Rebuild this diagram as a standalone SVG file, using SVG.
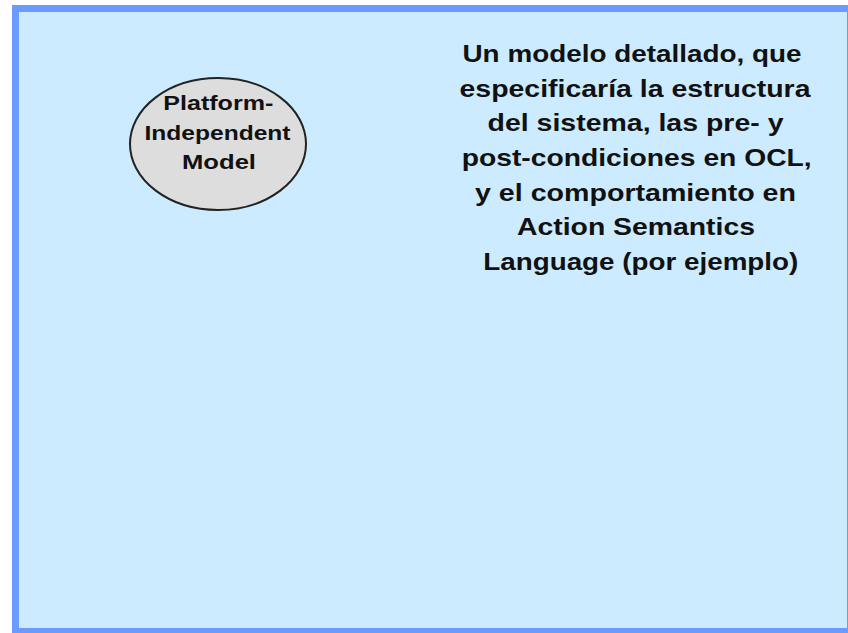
<svg xmlns="http://www.w3.org/2000/svg" width="848" height="633" viewBox="0 0 848 633">
<style>
.t{font-family:"Liberation Sans",Arial,sans-serif;font-weight:bold;fill:#111;text-anchor:middle}
.c{font-size:21px}
.d{font-size:24.5px}
</style>
<rect width="848" height="633" fill="#ffffff"/>
<g id="frame">
<rect x="12" y="5" width="836" height="628" fill="#6B9BFF"/>
<rect x="19" y="12" width="828" height="616" fill="#CCEBFF"/>
</g>
<g id="pim">
<ellipse cx="218" cy="144" rx="88" ry="66" fill="#DDDDDD" stroke="#222" stroke-width="2"/>
<text class="t c" x="218.3" y="110" textLength="110" lengthAdjust="spacingAndGlyphs">Platform-</text>
<text class="t c" x="217.5" y="140" textLength="146" lengthAdjust="spacingAndGlyphs">Independent</text>
<text class="t c" x="219" y="168.5" textLength="74" lengthAdjust="spacingAndGlyphs">Model</text>
</g>
<g id="description">
<text class="t d" x="632" y="62" textLength="339" lengthAdjust="spacingAndGlyphs">Un modelo detallado, que</text>
<text class="t d" x="635" y="96.7" textLength="351" lengthAdjust="spacingAndGlyphs">especificaría la estructura</text>
<text class="t d" x="635.5" y="131.3" textLength="296" lengthAdjust="spacingAndGlyphs">del sistema, las pre- y</text>
<text class="t d" x="636.7" y="166" textLength="350" lengthAdjust="spacingAndGlyphs">post-condiciones en OCL,</text>
<text class="t d" x="635.5" y="200.7" textLength="321" lengthAdjust="spacingAndGlyphs">y el comportamiento en</text>
<text class="t d" x="636" y="235.3" textLength="238" lengthAdjust="spacingAndGlyphs">Action Semantics</text>
<text class="t d" x="640.8" y="270" textLength="315" lengthAdjust="spacingAndGlyphs">Language (por ejemplo)</text>
</g>
</svg>
